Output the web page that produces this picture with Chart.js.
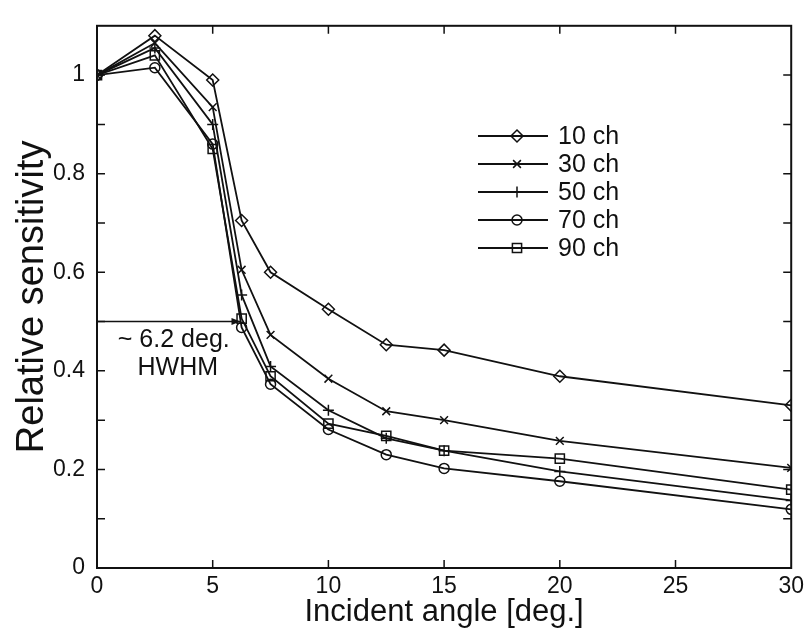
<!DOCTYPE html>
<html>
<head>
<meta charset="utf-8">
<script src="https://cdn.jsdelivr.net/npm/chart.js@4"></script>
<style>
  html, body { margin: 0; padding: 0; background: #fff; }
</style>
</head>
<body>
<canvas id="c" width="809" height="635"></canvas>
<script>
// incident angle [deg.] of each measurement
const angles = [0, 2.5, 5, 6.25, 7.5, 10, 12.5, 15, 20, 30];

// relative sensitivity per channel
const ch10 = [1.0, 1.08, 0.99, 0.705, 0.60, 0.525, 0.453, 0.442, 0.389, 0.33];
const ch30 = [1.0, 1.065, 0.935, 0.605, 0.473, 0.384, 0.318, 0.30, 0.258, 0.203];
const ch50 = [1.0, 1.055, 0.90, 0.554, 0.409, 0.32, 0.263, 0.238, 0.196, 0.137];
const ch70 = [1.0, 1.015, 0.86, 0.488, 0.373, 0.281, 0.230, 0.202, 0.176, 0.119];
const ch90 = [1.0, 1.04, 0.85, 0.506, 0.389, 0.293, 0.268, 0.238, 0.222, 0.159];

const seriesNames = ['10 ch', '30 ch', '50 ch', '70 ch', '90 ch'];
const seriesValues = [ch10, ch30, ch50, ch70, ch90];
const markers = ['rectRot', 'crossRot', 'cross', 'circle', 'rect'];
const markerSizes = [6, 5.5, 5.5, 5, 6.5];

// HWHM annotation
const hwhmAngle = 6.2;
const hwhmLevel = 0.5;
const hwhmText = ['~ 6.2 deg.', 'HWHM'];

const ink = '#111';
const fontFamily = '"Liberation Sans", Arial, Helvetica, sans-serif';

const datasets = seriesValues.map((vals, i) => ({
  label: seriesNames[i],
  data: angles.map((a, j) => ({ x: a, y: vals[j] })),
  borderColor: ink,
  borderWidth: 1.8,
  pointStyle: markers[i],
  pointRadius: markerSizes[i],
  pointBorderColor: ink,
  pointBackgroundColor: 'rgba(0,0,0,0)',
  pointBorderWidth: 1.5,
  tension: 0,
  fill: false
}));

function drawMarker(ctx, style, x, y, r) {
  ctx.beginPath();
  if (style === 'circle') {
    ctx.arc(x, y, r, 0, Math.PI * 2);
  } else if (style === 'rect') {
    const s = r / Math.SQRT2;
    ctx.rect(x - s, y - s, 2 * s, 2 * s);
  } else if (style === 'rectRot') {
    ctx.moveTo(x, y - r); ctx.lineTo(x + r, y); ctx.lineTo(x, y + r); ctx.lineTo(x - r, y); ctx.closePath();
  } else if (style === 'cross') {
    ctx.moveTo(x, y - r); ctx.lineTo(x, y + r); ctx.moveTo(x - r, y); ctx.lineTo(x + r, y);
  } else if (style === 'crossRot') {
    const d = r * Math.SQRT1_2;
    ctx.moveTo(x - d, y - d); ctx.lineTo(x + d, y + d); ctx.moveTo(x + d, y - d); ctx.lineTo(x - d, y + d);
  }
  ctx.stroke();
}

const framePlugin = {
  id: 'frame',
  afterDraw(chart) {
    const ctx = chart.ctx;
    const a = chart.chartArea;
    const xs = chart.scales.x, ys = chart.scales.y;
    ctx.save();
    ctx.strokeStyle = ink;

    // box
    ctx.lineWidth = 2;
    ctx.strokeRect(a.left, a.top, a.right - a.left, a.bottom - a.top);

    // inward ticks on all sides
    ctx.lineWidth = 1.5;
    const tl = 8;
    ctx.beginPath();
    xs.ticks.forEach(t => {
      if (t.value <= xs.min || t.value >= xs.max) return;
      const px = xs.getPixelForValue(t.value);
      ctx.moveTo(px, a.bottom); ctx.lineTo(px, a.bottom - tl);
      ctx.moveTo(px, a.top); ctx.lineTo(px, a.top + tl);
    });
    ys.ticks.forEach(t => {
      if (t.value <= ys.min + 1e-9 || t.value >= ys.max - 1e-9) return;
      const py = ys.getPixelForValue(t.value);
      ctx.moveTo(a.left, py); ctx.lineTo(a.left + tl, py);
      ctx.moveTo(a.right, py); ctx.lineTo(a.right - tl, py);
    });
    ctx.stroke();

    // HWHM arrow
    const y5 = ys.getPixelForValue(hwhmLevel);
    const xEnd = xs.getPixelForValue(hwhmAngle);
    ctx.lineWidth = 1.5;
    ctx.beginPath();
    ctx.moveTo(a.left, y5); ctx.lineTo(xEnd, y5);
    ctx.stroke();
    ctx.fillStyle = ink;
    ctx.beginPath();
    ctx.moveTo(xEnd, y5); ctx.lineTo(xEnd - 9, y5 - 3.5); ctx.lineTo(xEnd - 9, y5 + 3.5); ctx.closePath();
    ctx.fill();

    ctx.font = '25px ' + fontFamily;
    ctx.textBaseline = 'middle';
    ctx.textAlign = 'left';
    ctx.fillText(hwhmText[0], xs.getPixelForValue(0.9), ys.getPixelForValue(0.463));
    ctx.fillText(hwhmText[1], xs.getPixelForValue(1.75), ys.getPixelForValue(0.405));

    // legend
    ctx.font = '25px ' + fontFamily;
    const lx0 = 478, lx1 = 548, mx = 517, tx = 558;
    const rowY = [136, 164, 192, 220, 248];
    chart.data.datasets.forEach((ds, i) => {
      const y = rowY[i];
      ctx.lineWidth = 1.8;
      ctx.beginPath();
      ctx.moveTo(lx0, y); ctx.lineTo(lx1, y);
      ctx.stroke();
      ctx.lineWidth = 1.5;
      drawMarker(ctx, ds.pointStyle, mx, y, ds.pointRadius);
      ctx.fillStyle = ink;
      ctx.fillText(ds.label, tx, y + 1);
    });
    ctx.restore();
  }
};

new Chart(document.getElementById('c'), {
  type: 'line',
  data: { datasets: datasets },
  plugins: [framePlugin],
  options: {
    responsive: false,
    animation: false,
    layout: { padding: { top: 22, right: 13, left: 0, bottom: 0 } },
    plugins: {
      legend: { display: false },
      tooltip: { enabled: false }
    },
    scales: {
      x: {
        type: 'linear',
        min: 0,
        max: 30,
        grid: { display: false, drawTicks: false },
        border: { display: false },
        ticks: {
          stepSize: 5,
          color: ink,
          padding: 5,
          font: { family: fontFamily, size: 23 }
        },
        title: {
          display: true,
          text: 'Incident angle [deg.]',
          color: ink,
          padding: { top: 0, bottom: 4 },
          font: { family: fontFamily, size: 31 }
        },
        afterFit(scale) { scale.height = 67; }
      },
      y: {
        type: 'linear',
        min: 0,
        max: 1.1,
        grid: { display: false, drawTicks: false },
        border: { display: false },
        ticks: {
          stepSize: 0.1,
          color: ink,
          padding: 12,
          font: { family: fontFamily, size: 23 },
          callback(v) {
            const k = Math.round(v * 10);
            if (k % 2 !== 0 || k > 10) return '';
            return String(k / 10);
          }
        },
        title: {
          display: true,
          text: 'Relative sensitivity',
          color: ink,
          padding: { top: 10, bottom: 0 },
          font: { family: fontFamily, size: 38 }
        },
        afterFit(scale) { scale.width = 97; }
      }
    }
  }
});
</script>
</body>
</html>
